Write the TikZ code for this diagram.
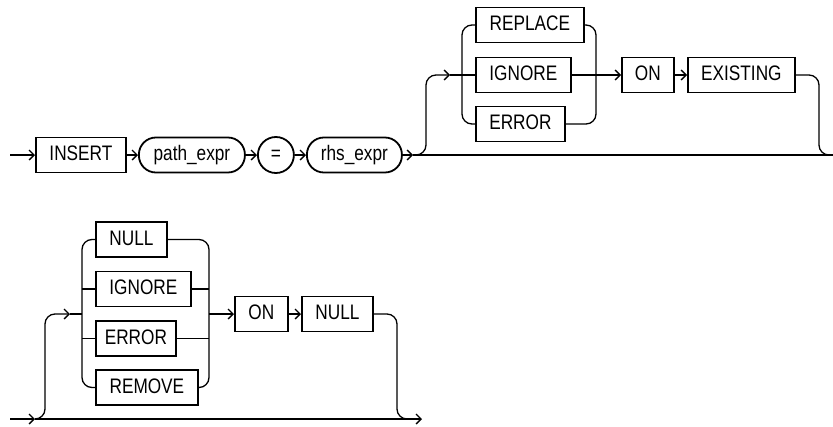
\documentclass[tikz,border=0pt]{standalone}
\usepackage{fontspec}
\setmainfont{Liberation Sans}[FakeStretch=0.82]
\usetikzlibrary{arrows.meta}
\begin{document}
\begin{tikzpicture}[x=1pt,y=-1pt,
  kw/.style={draw, line width=1.8pt, rectangle, minimum height=35pt, inner sep=0pt,
    anchor=west, text height=15pt, text depth=4pt, font=\fontsize{21}{25}\selectfont},
  nt/.style={kw, rounded corners=17pt},
  ln/.style={line width=1.3pt},
  ar/.style={ln, -{Straight Barb[length=5pt,width=10pt,line width=1.3pt]}},
  rc/.style={ln, rounded corners=10pt}]
\useasboundingbox (0,0) rectangle (833,426);

% ---------- top row ----------
\node[kw, minimum width=90pt]  (insert) at (35,155)  {INSERT};
\node[nt, minimum width=106pt] (path)   at (138,155) {path\_expr};
\node[kw, circle, minimum size=36pt] (eq) at (257,155) {=};
\node[nt, minimum width=95pt]  (rhs)    at (306,155) {rhs\_expr};
\node[kw, minimum width=108pt] (rep)    at (475,25)  {REPLACE};
\node[kw, minimum width=95pt]  (ign1)   at (475,75)  {IGNORE};
\node[kw, minimum width=89pt]  (err1)   at (475,124) {ERROR};
\node[kw, minimum width=52pt]  (on1)    at (621,75)  {ON};
\node[kw, minimum width=107pt] (exist)  at (687,75)  {EXISTING};

\coordinate (s1) at (10,155);
\coordinate (j1) at (413,155);
\coordinate (e1) at (833,155);
\coordinate (br1a) at (426,155);
\coordinate (br1b) at (426,75);
\coordinate (b1) at (450,75);
\coordinate (l1t) at (462,25);
\coordinate (l1b) at (462,124);
\coordinate (r1t) at (596,25);
\coordinate (r1b) at (596,124);
\coordinate (x1a) at (819,75);
\coordinate (x1b) at (819,155);

\draw[ar] (s1) -- (insert.west);
\draw[ar] (insert) -- (path);
\draw[ar] (path) -- (eq);
\draw[ar] (eq) -- (rhs);
\draw[ar] (rhs) -- (j1);
\draw[ln] (j1) -- (e1);
\draw[ar, rounded corners=10pt] (j1) -- (br1a) -- (br1b) -- (b1);
\draw[ln] (b1) -- (ign1.west);
\draw[rc] (rep.west) -- (l1t) -- (l1b) -- (err1.west);
\draw[rc] (rep.east) -- (r1t) -- (r1b) -- (err1.east);
\draw[ar] (ign1) -- (on1);
\draw[ar] (on1) -- (exist);
\draw[rc] (exist.east) -- (x1a) -- (x1b) -- (e1);

% ---------- bottom row ----------
\node[kw, minimum width=71pt]  (null1)  at (95,239.5)  {NULL};
\node[kw, minimum width=95pt]  (ign2)   at (95,289)    {IGNORE};
\node[kw, minimum width=80pt]  (err2)   at (95,338.5)  {ERROR};
\node[kw, minimum width=102pt] (remove) at (95,387.5)  {REMOVE};
\node[kw, minimum width=53pt]  (on2)    at (234,314)   {ON};
\node[kw, minimum width=71pt]  (null2)  at (301,314)   {NULL};

\coordinate (s2) at (10,419);
\coordinate (j2) at (35,419);
\coordinate (e2) at (422,419);
\coordinate (br2a) at (45,419);
\coordinate (br2b) at (45,314);
\coordinate (b2) at (70,314);
\coordinate (l2t) at (82,239.5);
\coordinate (l2m) at (82,314);
\coordinate (l2i) at (82,289);
\coordinate (l2e) at (82,338.5);
\coordinate (l2b) at (82,387.5);
\coordinate (r2t) at (209,239.5);
\coordinate (r2i) at (209,289);
\coordinate (r2m) at (209,314);
\coordinate (r2e) at (209,338.5);
\coordinate (r2b) at (209,387.5);
\coordinate (x2a) at (397,314);
\coordinate (x2b) at (397,419);
\coordinate (x2c) at (412,419);

\draw[ar] (s2) -- (j2);
\draw[ar] (j2) -- (e2);
\draw[ar, rounded corners=10pt] (j2) -- (br2a) -- (br2b) -- (b2);
\draw[ln] (b2) -- (l2m);
\draw[rc] (null1.west) -- (l2t) -- (l2b) -- (remove.west);
\draw[ln] (l2i) -- (ign2.west);
\draw[ln] (l2e) -- (err2.west);
\draw[rc] (null1.east) -- (r2t) -- (r2b) -- (remove.east);
\draw[ln] (ign2.east) -- (r2i);
\draw[ln] (err2.east) -- (r2e);
\draw[ar] (r2m) -- (on2.west);
\draw[ar] (on2) -- (null2);
\draw[rc] (null2.east) -- (x2a) -- (x2b) -- (x2c);
\end{tikzpicture}
\end{document}
